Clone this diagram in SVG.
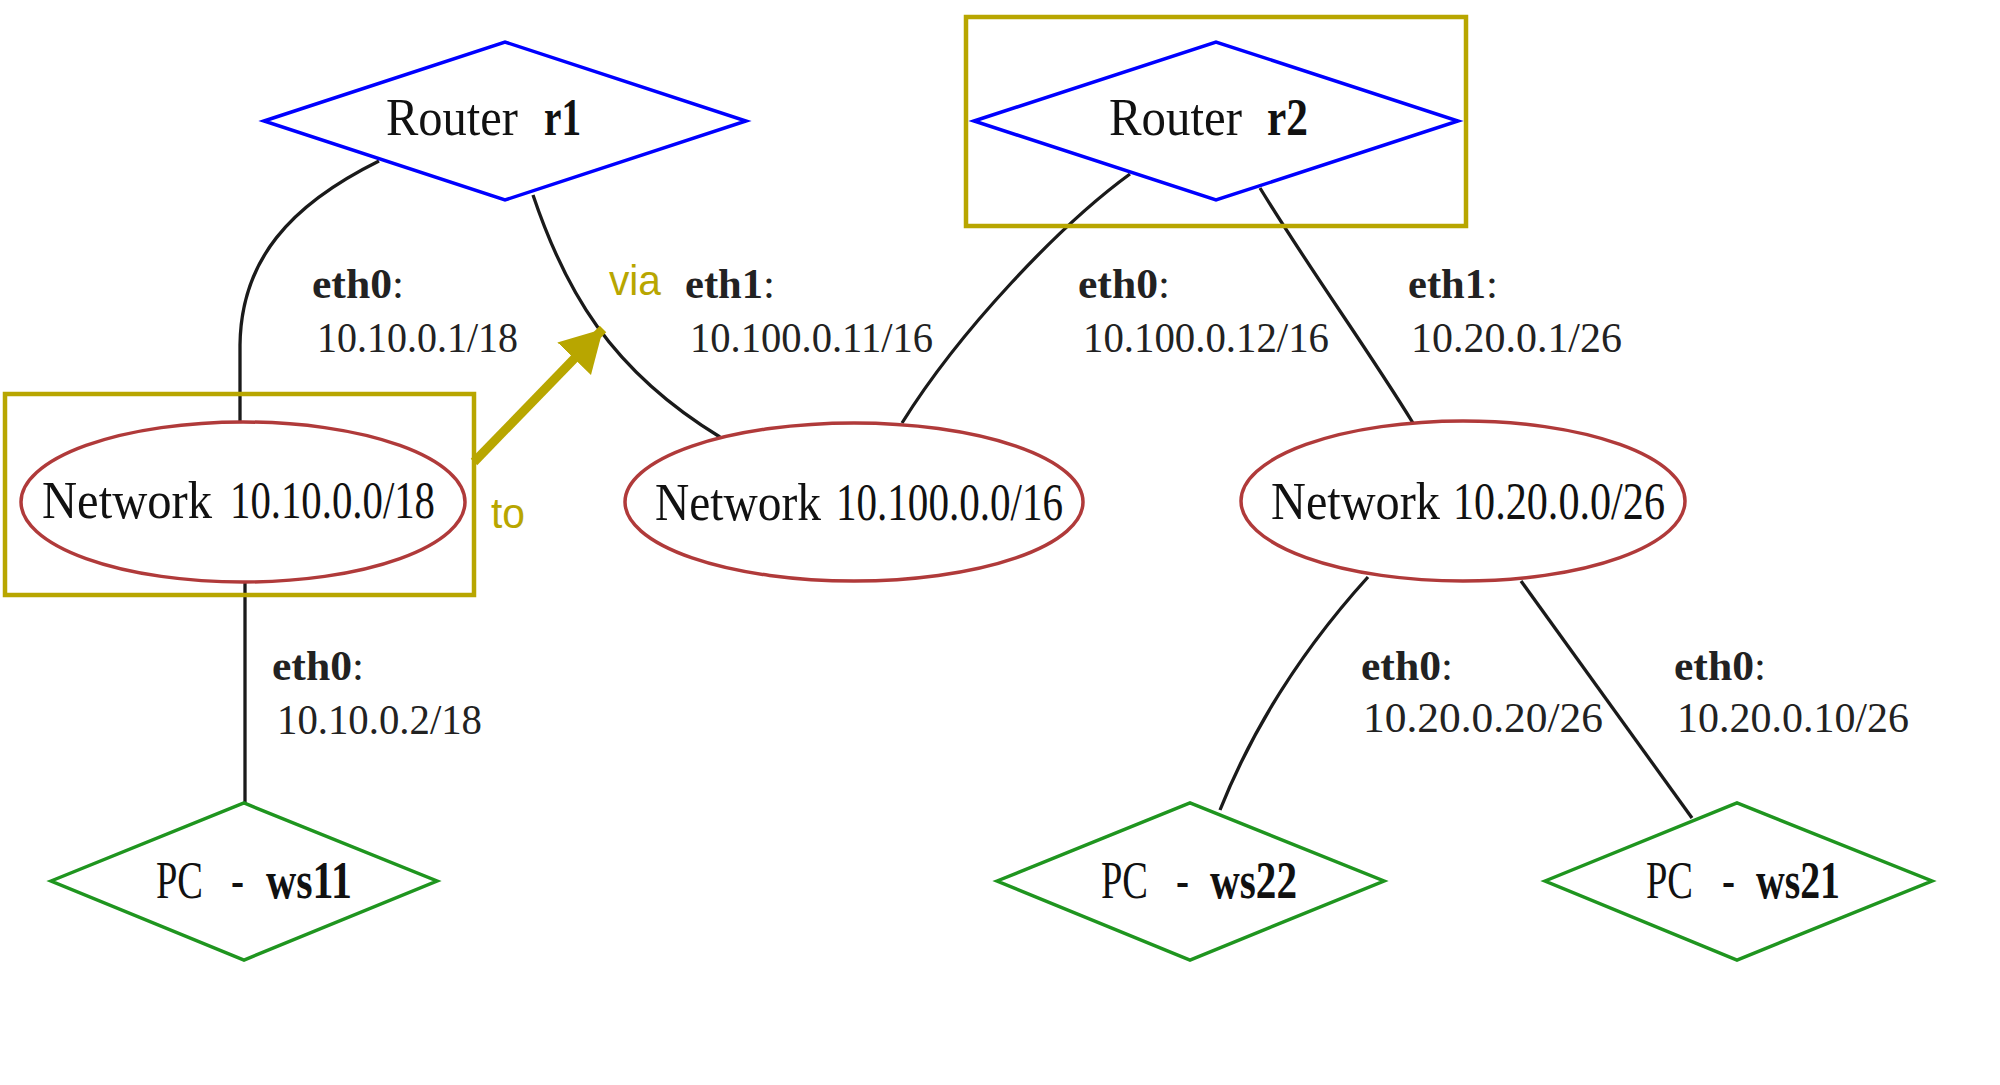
<svg xmlns="http://www.w3.org/2000/svg" width="2000" height="1085" viewBox="0 0 2000 1085">
<style>
.router{fill:#fff;stroke:#0000ff;stroke-width:3.5}
.net{fill:#fff;stroke:#b03a3a;stroke-width:3.5}
.pc{fill:#fff;stroke:#1f951f;stroke-width:3.5}
.hl{fill:none;stroke:#b8a600;stroke-width:4.5}
.edge{fill:none;stroke:#1a1a1a;stroke-width:3.3}
.nl{font-family:"Liberation Serif","Times New Roman",serif;font-size:52px;fill:#111}
.el{font-family:"Liberation Serif","Times New Roman",serif;font-size:43px;fill:#222}
.b{font-weight:bold}
.ann{font-family:"Liberation Sans",Arial,sans-serif;font-size:42px;fill:#b8a600}
</style>
<defs>
<marker id="ah" markerWidth="6" markerHeight="6" refX="4.6" refY="2.6" orient="auto" markerUnits="strokeWidth">
<path d="M0,0 L4.6,2.6 L0,5.2 Z" fill="#b8a600"/>
</marker>
</defs>
<rect width="2000" height="1085" fill="#fff"/>
<g id="connectors">
<path class="edge" d="M379,161 C290,205 241,260 240,345 L240,421"/>
<path class="edge" d="M533,195 C565,290 610,370 720,437"/>
<path class="edge" d="M1130,174 C1060,225 960,330 902,423"/>
<path class="edge" d="M1260,188 C1310,270 1365,345 1413,423"/>
<path class="edge" d="M245,582 L245,803"/>
<path class="edge" d="M1368,577 C1320,630 1260,710 1220,810"/>
<path class="edge" d="M1521,581 L1692,818"/>
<text class="el" x="312" y="298"><tspan class="b" textLength="80" lengthAdjust="spacingAndGlyphs">eth0</tspan>:</text>
<text class="el" x="317" y="352" textLength="201" lengthAdjust="spacingAndGlyphs">10.10.0.1/18</text>
<text class="el" x="685" y="298"><tspan class="b" textLength="78" lengthAdjust="spacingAndGlyphs">eth1</tspan>:</text>
<text class="el" x="690" y="352" textLength="243" lengthAdjust="spacingAndGlyphs">10.100.0.11/16</text>
<text class="el" x="1078" y="298"><tspan class="b" textLength="80" lengthAdjust="spacingAndGlyphs">eth0</tspan>:</text>
<text class="el" x="1083" y="352" textLength="246" lengthAdjust="spacingAndGlyphs">10.100.0.12/16</text>
<text class="el" x="1408" y="298"><tspan class="b" textLength="78" lengthAdjust="spacingAndGlyphs">eth1</tspan>:</text>
<text class="el" x="1411" y="352" textLength="211" lengthAdjust="spacingAndGlyphs">10.20.0.1/26</text>
<text class="el" x="272" y="680"><tspan class="b" textLength="80" lengthAdjust="spacingAndGlyphs">eth0</tspan>:</text>
<text class="el" x="277" y="734" textLength="205" lengthAdjust="spacingAndGlyphs">10.10.0.2/18</text>
<text class="el" x="1361" y="680"><tspan class="b" textLength="80" lengthAdjust="spacingAndGlyphs">eth0</tspan>:</text>
<text class="el" x="1363" y="732" textLength="240" lengthAdjust="spacingAndGlyphs">10.20.0.20/26</text>
<text class="el" x="1674" y="680"><tspan class="b" textLength="80" lengthAdjust="spacingAndGlyphs">eth0</tspan>:</text>
<text class="el" x="1677" y="732" textLength="232" lengthAdjust="spacingAndGlyphs">10.20.0.10/26</text>
</g>
<g id="r1">
<polygon class="router" points="264,121 505,42 746,121 505,200"/>
<text class="nl"><tspan x="386" y="135" textLength="132" lengthAdjust="spacingAndGlyphs">Router</tspan><tspan class="b" x="544" y="135" textLength="37" lengthAdjust="spacingAndGlyphs">r1</tspan></text>
</g>
<g id="r2">
<polygon class="router" points="974,121 1216,42 1458,121 1216,200"/>
<text class="nl"><tspan x="1109" y="135" textLength="133" lengthAdjust="spacingAndGlyphs">Router</tspan><tspan class="b" x="1267" y="135" textLength="41" lengthAdjust="spacingAndGlyphs">r2</tspan></text>
<rect class="hl" x="966" y="17" width="500" height="209"/>
</g>
<g id="net1">
<ellipse class="net" cx="243" cy="502" rx="222" ry="80"/>
<text class="nl"><tspan x="42" y="518" textLength="170" lengthAdjust="spacingAndGlyphs">Network</tspan><tspan x="230" y="518" textLength="205" lengthAdjust="spacingAndGlyphs">10.10.0.0/18</tspan></text>
<rect class="hl" x="5" y="394" width="469" height="201"/>
</g>
<g id="net2">
<ellipse class="net" cx="854" cy="502" rx="229" ry="79"/>
<text class="nl"><tspan x="655" y="520" textLength="166" lengthAdjust="spacingAndGlyphs">Network</tspan><tspan x="836" y="520" textLength="227" lengthAdjust="spacingAndGlyphs">10.100.0.0/16</tspan></text>
</g>
<g id="net3">
<ellipse class="net" cx="1463" cy="501" rx="222" ry="80"/>
<text class="nl"><tspan x="1271" y="519" textLength="169" lengthAdjust="spacingAndGlyphs">Network</tspan><tspan x="1453" y="519" textLength="212" lengthAdjust="spacingAndGlyphs">10.20.0.0/26</tspan></text>
</g>
<g id="ws11">
<polygon class="pc" points="51,881 244,803 437,881 244,960"/>
<text class="nl"><tspan x="156" y="898" textLength="47" lengthAdjust="spacingAndGlyphs">PC</tspan><tspan x="231" y="898" textLength="13" lengthAdjust="spacingAndGlyphs">-</tspan><tspan class="b" x="266" y="898" textLength="86" lengthAdjust="spacingAndGlyphs">ws11</tspan></text>
</g>
<g id="ws22">
<polygon class="pc" points="997,881 1190,803 1384,881 1190,960"/>
<text class="nl"><tspan x="1101" y="898" textLength="47" lengthAdjust="spacingAndGlyphs">PC</tspan><tspan x="1176" y="898" textLength="13" lengthAdjust="spacingAndGlyphs">-</tspan><tspan class="b" x="1210" y="898" textLength="87" lengthAdjust="spacingAndGlyphs">ws22</tspan></text>
</g>
<g id="ws21">
<polygon class="pc" points="1545,881 1737,803 1932,881 1737,960"/>
<text class="nl"><tspan x="1646" y="898" textLength="47" lengthAdjust="spacingAndGlyphs">PC</tspan><tspan x="1722" y="898" textLength="13" lengthAdjust="spacingAndGlyphs">-</tspan><tspan class="b" x="1756" y="898" textLength="84" lengthAdjust="spacingAndGlyphs">ws21</tspan></text>
</g>
<g id="annotation">
<line x1="474" y1="462" x2="603" y2="329" stroke="#b8a600" stroke-width="9" marker-end="url(#ah)"/>
<text class="ann" x="609" y="295" textLength="52" lengthAdjust="spacingAndGlyphs">via</text>
<text class="ann" x="491" y="528" textLength="34" lengthAdjust="spacingAndGlyphs">to</text>
</g>
</svg>
